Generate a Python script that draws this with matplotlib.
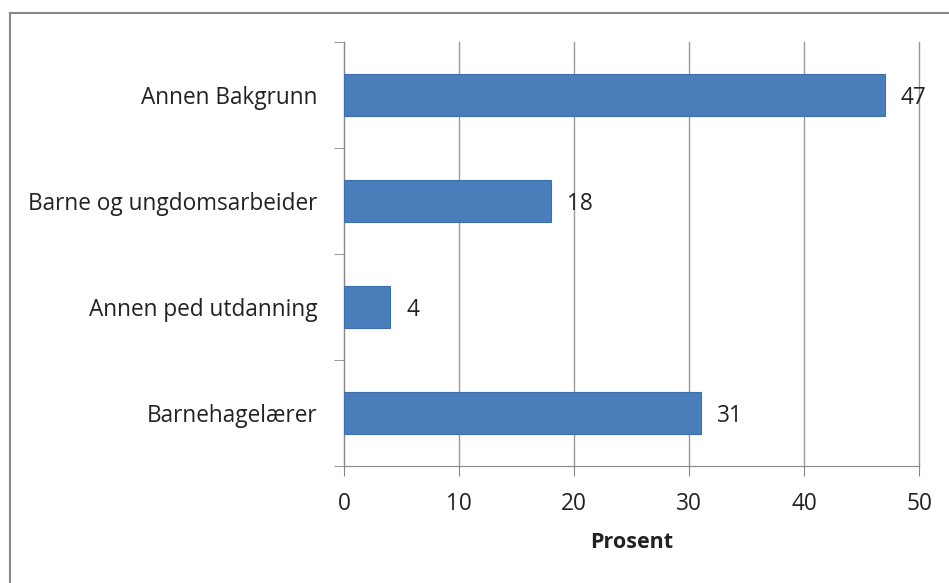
import matplotlib.pyplot as plt
from matplotlib.lines import Line2D

categories = ["Barnehagelærer", "Annen ped utdanning", "Barne og ungdomsarbeider", "Annen Bakgrunn"]
values = [31, 4, 18, 47]
x_ticks = [0, 10, 20, 30, 40, 50]

plt.rcParams["font.family"] = ["Open Sans", "DejaVu Sans"]
TXT = "#222222"
FS = 16.3

fig = plt.figure(figsize=(9.49, 5.83), dpi=100)
ax = fig.add_axes([344 / 949, 1 - 466 / 583, (919 - 344) / 949, (466 - 42) / 583])

ypos = list(range(len(categories)))
ax.barh(ypos, values, height=0.4, color="#4a7ebb", edgecolor="#3d6fae", linewidth=0.8, zorder=3)
for y, v in zip(ypos, values):
    ax.text(v + 1.4, y - 0.03, str(v), va="center", ha="left", fontsize=FS, color=TXT)

ax.set_xlim(0, 50)
ax.set_ylim(-0.5, len(categories) - 0.5)
ax.set_xticks(x_ticks)
ax.set_xticklabels([str(t) for t in x_ticks], fontsize=FS, color=TXT)
ax.set_yticks(ypos)
ax.set_yticklabels(categories, fontsize=FS, color=TXT)
ax.set_yticks([-0.5, 0.5, 1.5, 2.5, 3.5], minor=True)
ax.tick_params(axis="y", which="major", length=0, pad=19)
ax.tick_params(axis="y", which="minor", length=7, color="#888888")
ax.tick_params(axis="x", length=7, color="#888888", pad=12)
ax.grid(axis="x", color="#999999", linewidth=1, zorder=0)
for gl in ax.get_xgridlines():
    gl.set_clip_on(False)
ax.set_xlabel("Prosent", fontsize=15.5, fontweight="bold", labelpad=11, color=TXT)

for side in ["top", "right"]:
    ax.spines[side].set_visible(False)
ax.spines["left"].set_color("#888888")
ax.spines["bottom"].set_color("#888888")

# outer frame (only left and top edges are visible in the picture)
fig.add_artist(Line2D([10 / 949, 10 / 949], [0, 1 - 13 / 583], transform=fig.transFigure, color="#888888", linewidth=1.5))
fig.add_artist(Line2D([10 / 949, 1], [1 - 13 / 583, 1 - 13 / 583], transform=fig.transFigure, color="#888888", linewidth=1.5))

fig.savefig("out.png", dpi=100)
plt.close(fig)
